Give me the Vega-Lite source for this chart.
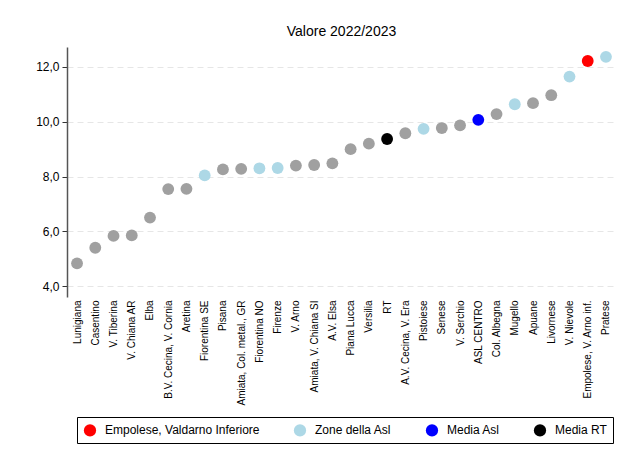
{
  "$schema": "https://vega.github.io/schema/vega-lite/v6.json",
  "width": 549,
  "height": 250,
  "autosize": "none",
  "padding": {"left": 67, "top": 47, "right": 8, "bottom": 160},
  "background": "white",
  "config": {
    "font": "Liberation Sans",
    "view": {"stroke": null}
  },
  "title": {"text": "Valore 2022/2023", "fontSize": 14, "fontWeight": "normal", "font": "Liberation Sans", "color": "black", "offset": 8, "anchor": "middle"},
  "data": {
    "values": [
      {"zona": "Lunigiana", "valore": 4.83, "gruppo": "Altre"},
      {"zona": "Casentino", "valore": 5.4, "gruppo": "Altre"},
      {"zona": "V. Tiberina", "valore": 5.83, "gruppo": "Altre"},
      {"zona": "V. Chiana AR", "valore": 5.85, "gruppo": "Altre"},
      {"zona": "Elba", "valore": 6.5, "gruppo": "Altre"},
      {"zona": "B.V. Cecina, V. Cornia", "valore": 7.54, "gruppo": "Altre"},
      {"zona": "Aretina", "valore": 7.55, "gruppo": "Altre"},
      {"zona": "Fiorentina SE", "valore": 8.04, "gruppo": "Zone della Asl"},
      {"zona": "Pisana", "valore": 8.26, "gruppo": "Altre"},
      {"zona": "Amiata, Col. metal., GR", "valore": 8.28, "gruppo": "Altre"},
      {"zona": "Fiorentina NO", "valore": 8.3, "gruppo": "Zone della Asl"},
      {"zona": "Firenze", "valore": 8.31, "gruppo": "Zone della Asl"},
      {"zona": "V. Arno", "valore": 8.4, "gruppo": "Altre"},
      {"zona": "Amiata, V. Chiana SI", "valore": 8.42, "gruppo": "Altre"},
      {"zona": "A.V. Elsa", "valore": 8.48, "gruppo": "Altre"},
      {"zona": "Piana Lucca", "valore": 9.0, "gruppo": "Altre"},
      {"zona": "Versilia", "valore": 9.2, "gruppo": "Altre"},
      {"zona": "RT", "valore": 9.37, "gruppo": "Media RT"},
      {"zona": "A.V. Cecina, V. Era", "valore": 9.58, "gruppo": "Altre"},
      {"zona": "Pistoiese", "valore": 9.74, "gruppo": "Zone della Asl"},
      {"zona": "Senese", "valore": 9.77, "gruppo": "Altre"},
      {"zona": "V. Serchio", "valore": 9.87, "gruppo": "Altre"},
      {"zona": "ASL CENTRO", "valore": 10.07, "gruppo": "Media Asl"},
      {"zona": "Col. Albegna", "valore": 10.28, "gruppo": "Altre"},
      {"zona": "Mugello", "valore": 10.64, "gruppo": "Zone della Asl"},
      {"zona": "Apuane", "valore": 10.68, "gruppo": "Altre"},
      {"zona": "Livornese", "valore": 10.97, "gruppo": "Altre"},
      {"zona": "V. Nievole", "valore": 11.65, "gruppo": "Zone della Asl"},
      {"zona": "Empolese, V. Arno inf.", "valore": 12.22, "gruppo": "Empolese, Valdarno Inferiore"},
      {"zona": "Pratese", "valore": 12.37, "gruppo": "Zone della Asl"}
    ]
  },
  "mark": {"type": "circle", "size": 140, "opacity": 1},
  "encoding": {
    "x": {
      "field": "zona",
      "type": "nominal",
      "sort": null,
      "scale": {"type": "point", "padding": 0.55},
      "axis": {
        "title": null,
        "labelAngle": -90,
        "labelFontSize": 10,
        "labelColor": "black",
        "domain": false,
        "ticks": false,
        "labelPadding": 3,
        "grid": false,
        "labelLimit": 200
      }
    },
    "y": {
      "field": "valore",
      "type": "quantitative",
      "scale": {"domain": [3.6, 12.73], "nice": false, "zero": false},
      "axis": {
        "title": null,
        "values": [4, 6, 8, 10, 12],
        "labelExpr": "replace(format(datum.value, '.1f'), '.', ',')",
        "labelFontSize": 12,
        "labelColor": "black",
        "domainColor": "#555555",
        "domainWidth": 1.5,
        "tickColor": "#333333",
        "tickSize": 5,
        "labelPadding": 3,
        "grid": true,
        "gridColor": "#e6e6e6",
        "gridDash": [6, 4],
        "gridWidth": 1
      }
    },
    "color": {
      "field": "gruppo",
      "type": "nominal",
      "scale": {
        "domain": ["Empolese, Valdarno Inferiore", "Zone della Asl", "Media Asl", "Media RT", "Altre"],
        "range": ["#ff0000", "#add8e6", "#0000ff", "#000000", "#a0a0a0"]
      },
      "legend": {
        "title": null,
        "values": ["Empolese, Valdarno Inferiore", "Zone della Asl", "Media Asl", "Media RT"],
        "orient": "none",
        "legendX": 10,
        "legendY": 370,
        "direction": "horizontal",
        "symbolType": "circle",
        "symbolSize": 150,
        "symbolOpacity": 1,
        "labelFontSize": 12,
        "labelColor": "black",
        "labelLimit": 300,
        "columnPadding": 33,
        "strokeColor": "black",
        "padding": 6,
        "labelOffset": 8
      }
    }
  }
}
